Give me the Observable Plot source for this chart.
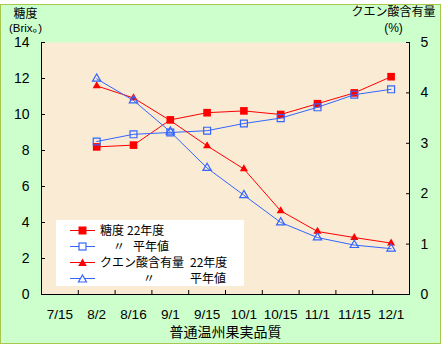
<!DOCTYPE html>
<html><head><meta charset="utf-8">
<script src="https://cdn.jsdelivr.net/npm/d3@7"></script>
<script src="https://cdn.jsdelivr.net/npm/@observablehq/plot@0.6"></script>
<style>
body{margin:0;background:#fff;}
#wrap{position:relative;width:444px;height:347px;overflow:hidden;font-family:"Noto Sans CJK JP","Noto Sans",sans-serif;color:#000;}
#box{position:absolute;left:0;top:4px;width:439px;height:338px;border:1.5px solid #A6C84C;background:#CCFFCC;}
#chart{position:absolute;left:0;top:0;}
#legend{position:absolute;left:56px;top:220px;width:188px;height:66px;background:#fff;font-size:12px;}
.row{position:absolute;left:0;height:16px;width:188px;}
.row span{position:absolute;top:0;line-height:16px;white-space:pre;}
.row svg{position:absolute;left:14px;top:3px;}
</style></head>
<body>
<div id="wrap">
<div id="box"></div>
<div id="chart"></div>
<div id="legend"></div>
</div>
<script>
const categories = ["7/15","8/2","8/16","9/1","9/15","10/1","10/15","11/1","11/15","12/1"];
const sugar22  = [null, 8.2, 8.3, 9.7, 10.1, 10.2, 10.0, 10.6, 11.2, 12.1];
const sugarAvg = [null, 8.5, 8.9, 9.0, 9.1, 9.5, 9.8, 10.4, 11.1, 11.4];
const acid22   = [null, 4.14, 3.90, 3.45, 2.95, 2.49, 1.66, 1.25, 1.13, 1.02];
const acidAvg  = [null, 4.28, 3.85, 3.23, 2.51, 1.97, 1.43, 1.13, 0.98, 0.91];
const sugarTicks = [0, 2, 4, 6, 8, 10, 12, 14];
const acidTicks = [0, 1, 2, 3, 4, 5];
const sugarMax = 14, acidMax = 5;
const k = sugarMax / acidMax;

const RED = "#FF0000", BLUE = "#3366FF";
const rows = categories.map((c, i) => ({i, c, s22: sugar22[i], sAvg: sugarAvg[i], a22: acid22[i], aAvg: acidAvg[i]}));
const xi = d => d.i + 0.5;
const def = key => rows.filter(d => d[key] != null);
const font = "'Liberation Sans','Noto Sans CJK JP',sans-serif";

const plot = Plot.plot({
  width: 444, height: 347,
  marginLeft: 41, marginRight: 35, marginTop: 42, marginBottom: 53,
  x: {type: "linear", domain: [0, categories.length]},
  y: {domain: [0, sugarMax]},
  style: {background: "transparent", fontFamily: font, color: "#000", overflow: "visible"},
  marks: [
    Plot.frame({fill: "#FAEBD5", stroke: "none"}),
    Plot.ruleY([0], {stroke: "#000"}),
    Plot.ruleX([0, categories.length], {stroke: "#000"}),
    Plot.axisY(sugarTicks, {anchor: "left", tickSize: -4, tickPadding: 16, fontSize: 14, label: null, stroke: "#000"}),
    Plot.axisY(acidTicks.map(v => v * k), {anchor: "right", tickSize: -4, tickPadding: 15, fontSize: 14, label: null, tickFormat: v => Math.round(v / k), stroke: "#000"}),
    Plot.axisX(d3.range(1, categories.length), {anchor: "bottom", tickSize: -4, tickFormat: () => "", label: null, stroke: "#000"}),
    Plot.axisX(categories.map((c, i) => i + 0.5), {anchor: "bottom", tickSize: 0, tickPadding: 15, fontSize: 13.5, label: null, tickFormat: v => categories[Math.floor(v)]}),
    Plot.line(def("s22"), {x: xi, y: "s22", stroke: RED, strokeWidth: 1}),
    Plot.dot(def("s22"), {x: xi, y: "s22", symbol: "square", r: 4.3, fill: RED, stroke: "none"}),
    Plot.line(def("sAvg"), {x: xi, y: "sAvg", stroke: BLUE, strokeWidth: 1}),
    Plot.dot(def("sAvg"), {x: xi, y: "sAvg", symbol: "square", r: 3.9, fill: "none", stroke: BLUE, strokeWidth: 1.2}),
    Plot.line(def("a22"), {x: xi, y: d => d.a22 * k, stroke: RED, strokeWidth: 1}),
    Plot.dot(def("a22"), {x: xi, y: d => d.a22 * k, symbol: "triangle", r: 3.0, fill: RED, stroke: "none"}),
    Plot.line(def("aAvg"), {x: xi, y: d => d.aAvg * k, stroke: BLUE, strokeWidth: 1}),
    Plot.dot(def("aAvg"), {x: xi, y: d => d.aAvg * k, symbol: "triangle", r: 3.1, fill: "none", stroke: BLUE, strokeWidth: 1.2}),
    Plot.text(["糖度"], {frameAnchor: "top-left", dx: -16, dy: -28.5, fontSize: 12, textAnchor: "middle", lineAnchor: "middle"}),
    Plot.text(["(Brix。)"], {frameAnchor: "top-left", dx: -16, dy: -14.5, fontSize: 11.5, textAnchor: "middle", lineAnchor: "middle"}),
    Plot.text(["クエン酸含有量"], {frameAnchor: "top-right", dx: -16, dy: -30, fontSize: 12, textAnchor: "middle", lineAnchor: "middle"}),
    Plot.text(["(%)"], {frameAnchor: "top-right", dx: -16, dy: -14, fontSize: 12, textAnchor: "middle", lineAnchor: "middle"}),
    Plot.text(["普通温州果実品質"], {frameAnchor: "bottom", dy: 38, fontSize: 14, textAnchor: "middle", lineAnchor: "middle"})
  ]
});
document.getElementById("chart").appendChild(plot);

// legend
const legendItems = [
  {color: RED, symbol: "square", fill: true, parts: [["糖度", 44], ["22年度", 71]]},
  {color: BLUE, symbol: "square", fill: false, parts: [["〃", 57], ["平年値", 77]]},
  {color: RED, symbol: "triangle", fill: true, parts: [["クエン酸含有量", 44], ["22年度", 134]]},
  {color: BLUE, symbol: "triangle", fill: false, parts: [["〃", 87], ["平年値", 134]]}
];
const legend = document.getElementById("legend");
legendItems.forEach((it, j) => {
  const row = document.createElement("div");
  row.className = "row";
  row.style.top = (2 + j * 16) + "px";
  const sym = it.symbol === "square"
    ? (it.fill ? `<rect x="8.5" y="1.5" width="8" height="8" fill="${it.color}"/>` : `<rect x="9" y="2" width="7" height="7" fill="#fff" stroke="${it.color}" stroke-width="1.2"/>`)
    : (it.fill ? `<path d="M12.5,1.5 L16.8,9 L8.2,9 Z" fill="${it.color}"/>` : `<path d="M12.5,2 L16.5,9 L8.5,9 Z" fill="#fff" stroke="${it.color}" stroke-width="1.2"/>`);
  row.innerHTML = `<svg width="26" height="11"><line x1="0" x2="25" y1="5.5" y2="5.5" stroke="${it.color}" stroke-width="1"/>${sym}</svg>` +
    it.parts.map(([t, x]) => `<span style="left:${x}px">${t}</span>`).join("");
  legend.appendChild(row);
});
</script>
</body></html>
